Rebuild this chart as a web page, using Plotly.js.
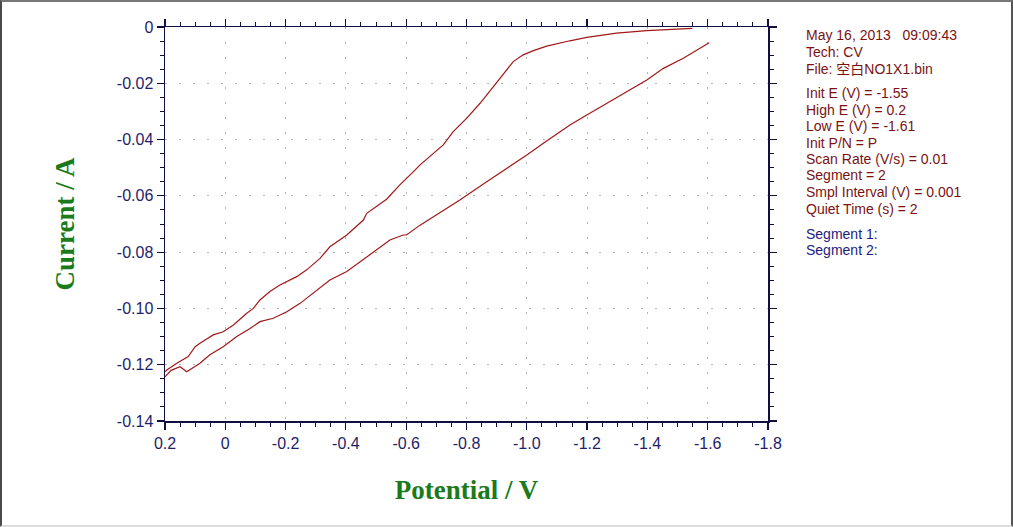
<!DOCTYPE html>
<html>
<head>
<meta charset="utf-8">
<script src="https://cdn.plot.ly/plotly-3.0.1.min.js"></script>
<style>
  html, body { margin: 0; padding: 0; background: #fff; }
  #wrap { position: relative; width: 1013px; height: 527px; overflow: hidden; }
  #chart { width: 1013px; height: 527px; }
  #frame { position: absolute; left: 0; top: 0; width: 1013px; height: 527px; box-sizing: border-box;
           border-left: 2px solid #4a4a4a; border-top: 2px solid #777; border-right: 2px solid #555;
           border-bottom: 2px solid #ddd; pointer-events: none; }
</style>
</head>
<body>
<div id="wrap"><div id="chart"></div><div id="frame"></div></div>
<script>
// Segment 1: -1.55 V -> 0.2 V
const seg1Potential = [-1.549, -1.398, -1.298, -1.199, -1.143, -1.110, -1.066, -1.022, -0.988, -0.955,
  -0.933, -0.889, -0.845, -0.801, -0.756, -0.723, -0.690, -0.646, -0.624, -0.579, -0.535, -0.469,
  -0.458, -0.403, -0.347, -0.314, -0.270, -0.237, -0.181, -0.148, -0.115, -0.093, -0.071, -0.027,
  0.007, 0.040, 0.084, 0.100, 0.123, 0.161, 0.194, 0.200];
const seg1Current = [-0.0005, -0.0013, -0.0022, -0.0037, -0.0049, -0.0056, -0.0068, -0.0084, -0.0099, -0.0123,
  -0.0153, -0.0212, -0.0271, -0.0324, -0.0372, -0.0419, -0.0449, -0.0490, -0.0514, -0.0561, -0.0612, -0.0662,
  -0.0686, -0.0739, -0.0781, -0.0822, -0.0863, -0.0887, -0.0917, -0.0940, -0.0970, -0.1000, -0.1017, -0.1059,
  -0.1083, -0.1094, -0.1124, -0.1136, -0.1171, -0.1195, -0.1219, -0.1225];

// Segment 2: 0.2 V -> -1.61 V
const seg2Potential = [0.200, 0.180, 0.150, 0.128, 0.084, 0.051, 0.007, -0.038, -0.082, -0.115, -0.159,
  -0.204, -0.248, -0.303, -0.347, -0.403, -0.469, -0.546, -0.590, -0.601, -0.646, -0.701, -0.778,
  -0.867, -0.944, -1.000, -1.055, -1.143, -1.199, -1.265, -1.353, -1.398, -1.453, -1.519, -1.605];
const seg2Current = [-0.1243, -0.1220, -0.1207, -0.1225, -0.1195, -0.1165, -0.1136, -0.1100, -0.1071, -0.1047, -0.1035,
  -0.1012, -0.0982, -0.0935, -0.0899, -0.0869, -0.0816, -0.0757, -0.0739, -0.0739, -0.0704, -0.0668, -0.0615,
  -0.0550, -0.0496, -0.0455, -0.0413, -0.0348, -0.0313, -0.0271, -0.0218, -0.0188, -0.0147, -0.0111, -0.0056];

const xTickVals = [0.2, 0, -0.2, -0.4, -0.6, -0.8, -1.0, -1.2, -1.4, -1.6, -1.8];
const xTickText = ['0.2', '0', '-0.2', '-0.4', '-0.6', '-0.8', '-1.0', '-1.2', '-1.4', '-1.6', '-1.8'];
const yTickVals = [0, -0.02, -0.04, -0.06, -0.08, -0.10, -0.12, -0.14];
const yTickText = ['0', '-0.02', '-0.04', '-0.06', '-0.08', '-0.10', '-0.12', '-0.14'];

const infoLines = ['May 16, 2013   09:09:43', 'Tech: CV', 'File: 空白NO1X1.bin',
  'Init E (V) = -1.55', 'High E (V) = 0.2', 'Low E (V) = -1.61', 'Init P/N = P',
  'Scan Rate (V/s) = 0.01', 'Segment = 2', 'Smpl Interval (V) = 0.001', 'Quiet Time (s) = 2'];
const segmentLines = ['Segment 1:', 'Segment 2:'];

const W = 1013, H = 527, L = 165, R = 245, T = 27, B = 106;
const pw = W - L - R, ph = H - T - B;
const infoY = [35, 52, 69, 93, 110, 126, 143, 159, 175, 192, 209];
const segY = [234, 250];
const textX = 804;

const annotations = [];
function addText(txt, ypx, color) {
  annotations.push({
    text: txt, xref: 'paper', yref: 'paper',
    x: (textX - L) / pw, y: (H - B - ypx) / ph,
    xanchor: 'left', yanchor: 'middle', showarrow: false,
    font: {family: 'Arial, "Liberation Sans", "Noto Sans CJK SC", sans-serif', size: 14, color: color}
  });
}
infoLines.forEach((t, i) => addText(t, infoY[i], '#7a1212'));
segmentLines.forEach((t, i) => addText(t, segY[i], '#1c1c80'));

const lineStyle = {color: '#a01818', width: 1.2};
const traces = [
  {x: seg1Potential, y: seg1Current, mode: 'lines', line: lineStyle, hoverinfo: 'skip', showlegend: false},
  {x: seg2Potential, y: seg2Current, mode: 'lines', line: lineStyle, hoverinfo: 'skip', showlegend: false}
];

const axisFont = {family: 'Arial, "Liberation Sans", sans-serif', size: 16, color: '#1e1e6a'};
const titleFont = {family: '"Times New Roman", "Liberation Serif", serif', size: 27, color: '#1b7a1b', weight: 'bold'};

const layout = {
  width: W, height: H,
  margin: {l: L, r: R, t: T, b: B, pad: 0},
  paper_bgcolor: '#fff', plot_bgcolor: '#fff',
  showlegend: false,
  xaxis: {
    range: [0.2, -1.8], tickmode: 'array', tickvals: xTickVals, ticktext: xTickText,
    showline: true, linecolor: '#101040', linewidth: 1.5, mirror: 'ticks',
    ticks: 'outside', ticklen: 7, tickwidth: 1.2, tickcolor: '#101040',
    showgrid: true, gridcolor: '#b5b5b5', gridwidth: 1, griddash: '2px,13px',
    zeroline: false, tickfont: axisFont,
    minor: {dtick: 0.05, ticks: 'outside', ticklen: 4, tickwidth: 1, tickcolor: '#101040', showgrid: false},
    title: {text: 'Potential / V', font: titleFont, standoff: 29}
  },
  yaxis: {
    range: [-0.14, 0], tickmode: 'array', tickvals: yTickVals, ticktext: yTickText,
    showline: true, linecolor: '#101040', linewidth: 1.5, mirror: 'ticks',
    ticks: 'outside', ticklen: 7, tickwidth: 1.2, tickcolor: '#101040',
    showgrid: true, gridcolor: '#b5b5b5', gridwidth: 1, griddash: '2px,12px',
    zeroline: false, tickfont: axisFont,
    minor: {dtick: 0.005, ticks: 'outside', ticklen: 4, tickwidth: 1, tickcolor: '#101040', showgrid: false},
    title: {text: 'Current / A', font: titleFont, standoff: 34}
  },
  annotations: annotations
};

Plotly.newPlot('chart', traces, layout, {displayModeBar: false, staticPlot: true});
</script>
</body>
</html>
